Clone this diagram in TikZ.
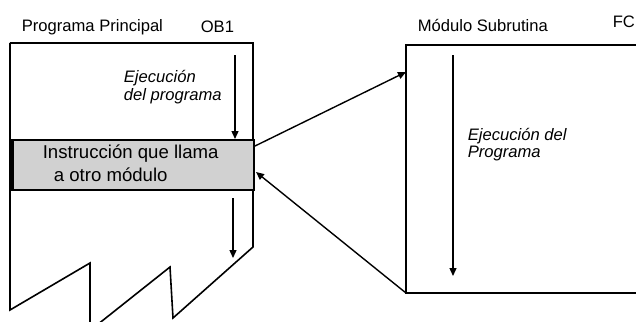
\documentclass[tikz,border=0pt]{standalone}
\usepackage{fontspec}
\setmainfont{Liberation Sans}
\usetikzlibrary{arrows.meta}
\begin{document}
\begin{tikzpicture}[x=1pt,y=-1pt, line width=1.6pt, line join=miter,
  lbl/.style={anchor=base west, inner sep=0pt, font=\fontsize{16.6}{18}\selectfont},
  ital/.style={anchor=base west, inner sep=0pt, font=\fontsize{16.6}{18}\selectfont\itshape},
  big/.style={anchor=base west, inner sep=0pt, font=\fontsize{18.6}{20}\selectfont},
  flow/.style={-{Triangle[length=8pt,width=7pt]}, line width=1.4pt}]
\useasboundingbox (0,0) rectangle (636,321);
\clip (0,0) rectangle (636,321);
% headings
\node[lbl] (hmain) at (21,32) {Programa Principal};
\node[lbl] (hob) at (200,33) {OB1};
\node[lbl] (hsub) at (417,32) {Módulo Subrutina};
\node[lbl] (hfc) at (612,28) {FC};
% main program box
\draw (10,43) -- (253,43) -- (253,247) -- (173,318) -- (170,267) -- (97,325);
\draw (10,43) -- (10,310) -- (90,263) -- (90,325);
% call instruction band
\node[draw, fill=black!18, minimum width=243pt, minimum height=50pt, anchor=north west, inner sep=0pt] (call) at (10,139) {};
\draw[line width=4pt] (12,139) -- (12,189);
\node[big] (t1) at (42,158) {Instrucción que llama};
\node[big] (t2) at (53,181) {a otro módulo};
% execution texts
\node[ital] (e1) at (123,82) {Ejecución};
\node[ital] (e2) at (123,100) {del programa};
\node[ital] (e3) at (467,140) {Ejecución del};
\node[ital] (e4) at (467,157) {Programa};
% subroutine box
\draw (640,45) -- (406,45) -- (406,293) -- (640,293);
% named points
\coordinate (a1s) at (235,55);
\coordinate (a1e) at (235,139);
\coordinate (a2s) at (233,198);
\coordinate (a2e) at (233,258);
\coordinate (a3s) at (453,55);
\coordinate (a3e) at (453,276);
\coordinate (callout) at (255,146);
\coordinate (subin) at (406,72);
\coordinate (subbl) at (406,293);
\coordinate (callin) at (256,172);
% arrows
\draw[flow] (a1s) -- (a1e);
\draw[flow] (a2s) -- (a2e);
\draw[flow] (a3s) -- (a3e);
\draw[flow] (callout) -- (subin);
\draw[flow] (subbl) -- (callin);
\end{tikzpicture}
\end{document}
